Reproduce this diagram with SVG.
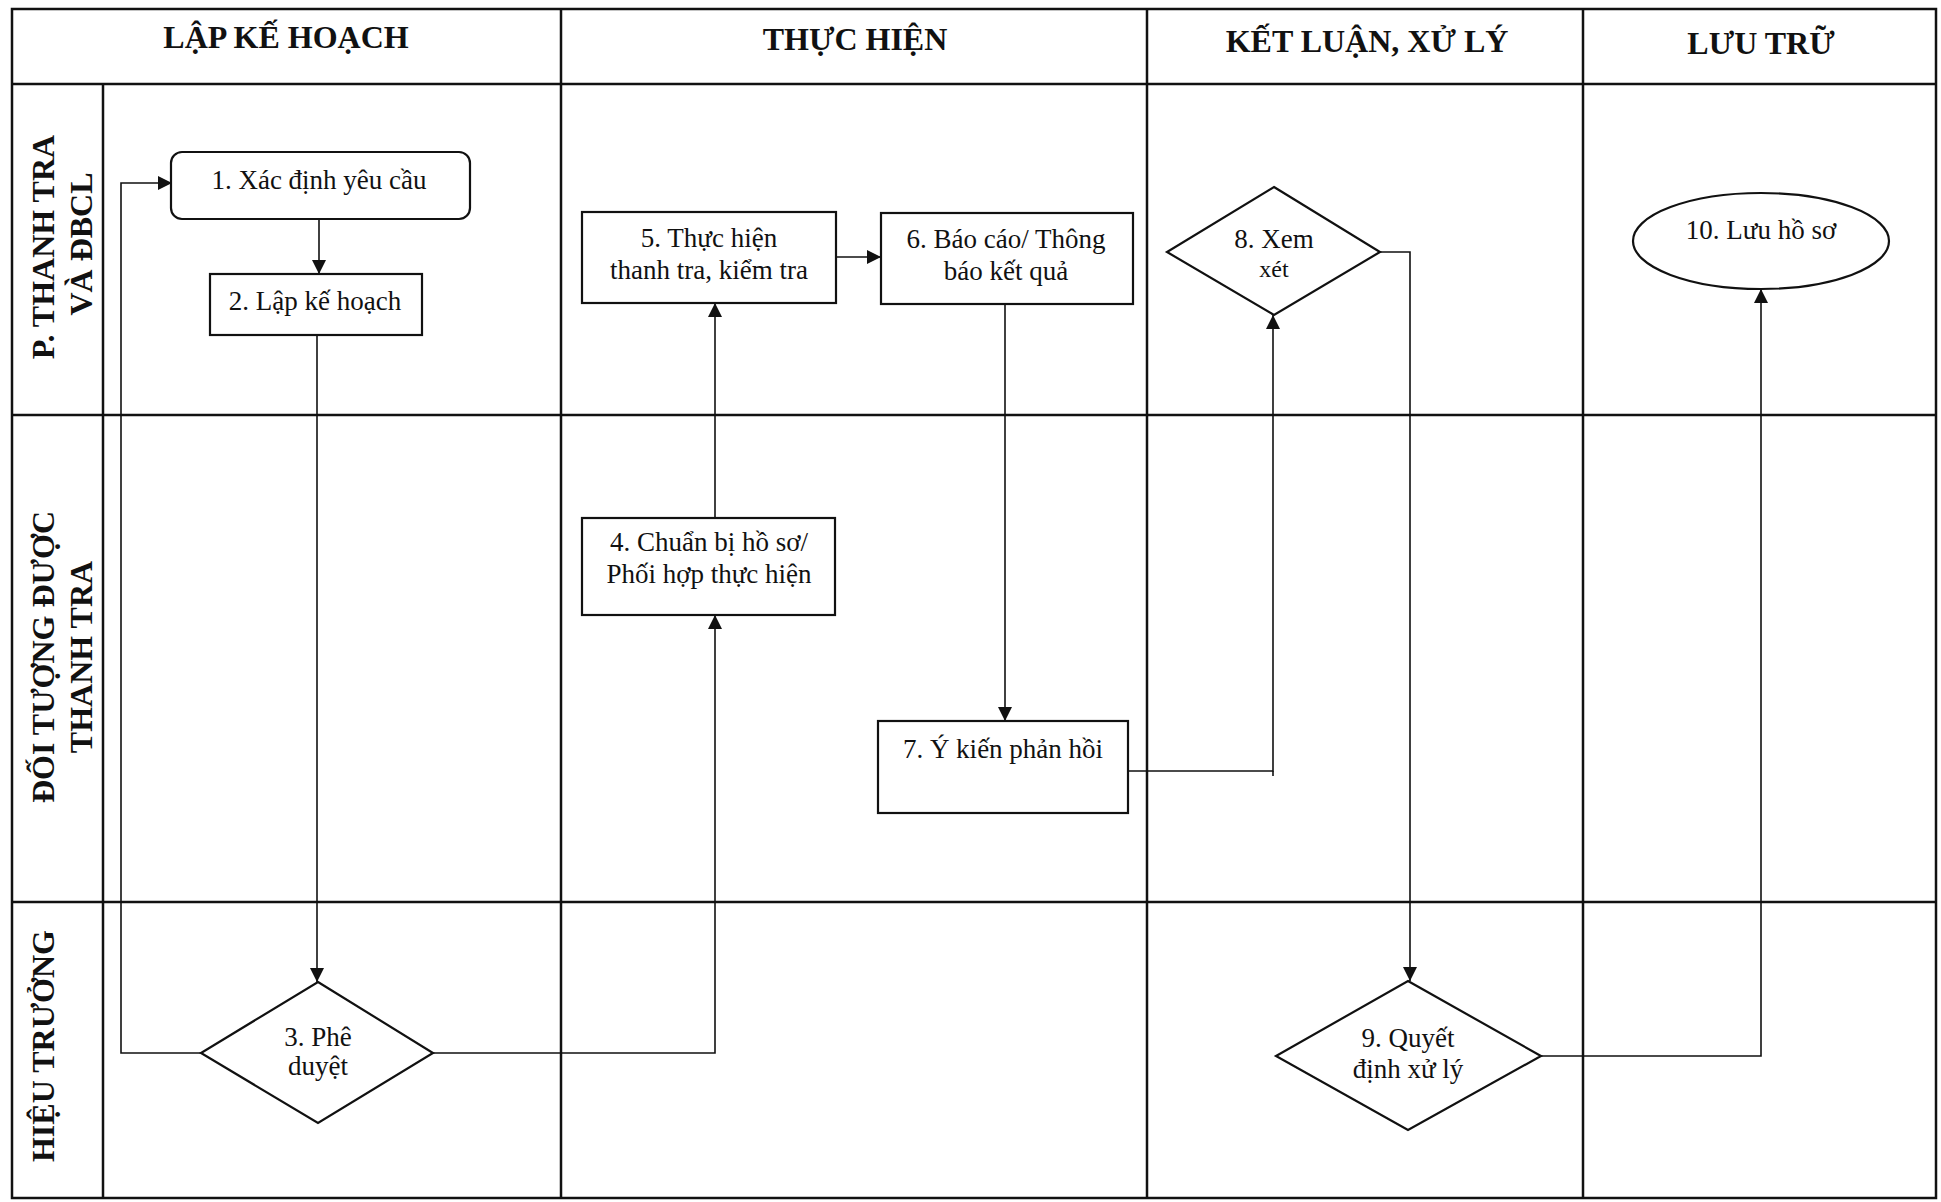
<svg xmlns="http://www.w3.org/2000/svg" width="1941" height="1202" viewBox="0 0 1941 1202">
<style>
.grid{stroke:#111;stroke-width:2.5;fill:none}
.shape{stroke:#111;stroke-width:2.2;fill:#fff}
.conn{stroke:#111;stroke-width:1.6;fill:none}
.hdr{font-family:"Liberation Serif","Times New Roman",serif;font-weight:bold;font-size:32px;fill:#111;text-anchor:middle}
.lane{font-family:"Liberation Serif","Times New Roman",serif;font-weight:bold;font-size:32px;fill:#111;text-anchor:middle}
.t{font-family:"Liberation Serif","Times New Roman",serif;font-size:27px;fill:#111;text-anchor:middle}
.ts{font-family:"Liberation Serif","Times New Roman",serif;font-size:24px;fill:#111;text-anchor:middle}
</style>
<defs>
<marker id="arr" markerUnits="userSpaceOnUse" markerWidth="14" markerHeight="14" refX="14" refY="7" orient="auto">
<path d="M0,0 L14,7 L0,14 z" fill="#111"/>
</marker>
</defs>
<rect x="0" y="0" width="1941" height="1202" fill="#fff"/>
<g id="grid">
<rect class="grid" x="12" y="9" width="1924" height="1189"/>
<line class="grid" x1="12" y1="84" x2="1936" y2="84"/>
<line class="grid" x1="12" y1="415" x2="1936" y2="415"/>
<line class="grid" x1="12" y1="902" x2="1936" y2="902"/>
<line class="grid" x1="103" y1="84" x2="103" y2="1198"/>
<line class="grid" x1="561" y1="9" x2="561" y2="1198"/>
<line class="grid" x1="1147" y1="9" x2="1147" y2="1198"/>
<line class="grid" x1="1583" y1="9" x2="1583" y2="1198"/>
</g>
<g id="headers">
<text class="hdr" x="286" y="48">LẬP KẾ HOẠCH</text>
<text class="hdr" x="855" y="50">THỰC HIỆN</text>
<text class="hdr" x="1367" y="52">KẾT LUẬN, XỬ LÝ</text>
<text class="hdr" x="1761" y="54">LƯU TRỮ</text>
</g>
<g id="lanes">
<g id="lane1">
<text class="lane" transform="translate(54,247) rotate(-90)">P. THANH TRA</text>
<text class="lane" transform="translate(92,244) rotate(-90)">VÀ ĐBCL</text>
</g>
<g id="lane2">
<text class="lane" transform="translate(54,657) rotate(-90)">ĐỐI TƯỢNG ĐƯỢC</text>
<text class="lane" transform="translate(92,657) rotate(-90)">THANH TRA</text>
</g>
<g id="lane3">
<text class="lane" transform="translate(54,1046) rotate(-90)">HIỆU TRƯỞNG</text>
</g>
</g>
<g id="connectors">
<path class="conn" d="M319,219 L319,274" marker-end="url(#arr)"/>
<path class="conn" d="M317,335 L317,982" marker-end="url(#arr)"/>
<path class="conn" d="M201,1053 L121,1053 L121,183 L172,183" marker-end="url(#arr)"/>
<path class="conn" d="M433,1053 L715,1053 L715,615" marker-end="url(#arr)"/>
<path class="conn" d="M715,518 L715,303" marker-end="url(#arr)"/>
<path class="conn" d="M836,257 L881,257" marker-end="url(#arr)"/>
<path class="conn" d="M1005,304 L1005,721" marker-end="url(#arr)"/>
<path class="conn" d="M1273,776 L1273,771"/>
<path class="conn" d="M1128,771 L1273,771 L1273,315" marker-end="url(#arr)"/>
<path class="conn" d="M1380,252 L1410,252 L1410,981" marker-end="url(#arr)"/>
<path class="conn" d="M1541,1056 L1761,1056 L1761,289" marker-end="url(#arr)"/>
</g>
<g id="n1">
<rect class="shape" x="171" y="152" width="299" height="67" rx="11"/>
<text class="t" x="319" y="189">1. Xác định yêu cầu</text>
</g>
<g id="n2">
<rect class="shape" x="210" y="274" width="212" height="61"/>
<text class="t" x="315" y="310">2. Lập kế hoạch</text>
</g>
<g id="n3">
<polygon class="shape" points="318,982 433,1053 318,1123 201,1053"/>
<text class="t" x="318" y="1046">3. Phê</text>
<text class="t" x="318" y="1075">duyệt</text>
</g>
<g id="n4">
<rect class="shape" x="582" y="518" width="253" height="97"/>
<text class="t" x="709" y="551">4. Chuẩn bị hồ sơ/</text>
<text class="t" x="709" y="583">Phối hợp thực hiện</text>
</g>
<g id="n5">
<rect class="shape" x="582" y="212" width="254" height="91"/>
<text class="t" x="709" y="247">5. Thực hiện</text>
<text class="t" x="709" y="279">thanh tra, kiểm tra</text>
</g>
<g id="n6">
<rect class="shape" x="881" y="213" width="252" height="91"/>
<text class="t" x="1006" y="248">6. Báo cáo/ Thông</text>
<text class="t" x="1006" y="280">báo kết quả</text>
</g>
<g id="n7">
<rect class="shape" x="878" y="721" width="250" height="92"/>
<text class="t" x="1003" y="758">7. Ý kiến phản hồi</text>
</g>
<g id="n8">
<polygon class="shape" points="1274,187 1380,252 1274,315 1167,252"/>
<text class="t" x="1274" y="248">8. Xem</text>
<text class="ts" x="1274" y="277">xét</text>
</g>
<g id="n9">
<polygon class="shape" points="1408,981 1541,1056 1408,1130 1276,1056"/>
<text class="t" x="1408" y="1047">9. Quyết</text>
<text class="t" x="1408" y="1078">định xử lý</text>
</g>
<g id="n10">
<ellipse class="shape" cx="1761" cy="241" rx="128" ry="48"/>
<text class="t" x="1761" y="239">10. Lưu hồ sơ</text>
</g>
</svg>
